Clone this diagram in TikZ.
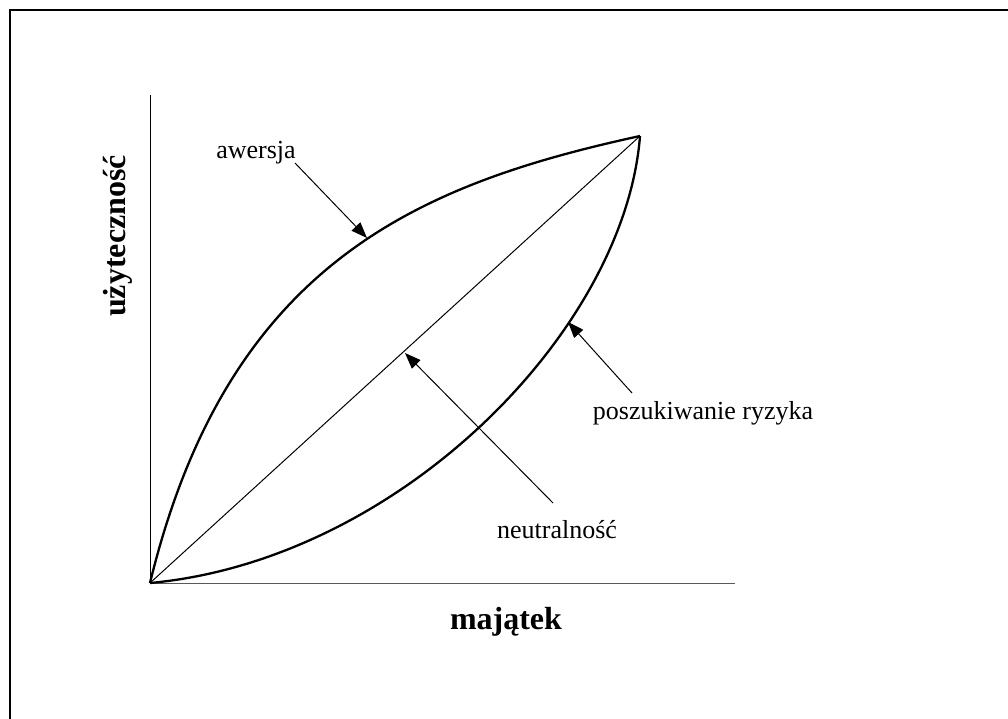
\documentclass[tikz,border=0pt]{standalone}
\usepackage{fontspec}
\setmainfont{Liberation Serif}
\usetikzlibrary{arrows.meta}
\begin{document}
\begin{tikzpicture}[x=1pt,y=-1pt,
  curve/.style={line width=2.3pt},
  thin/.style={line width=1pt},
  pointer/.style={line width=1pt,-{Triangle[length=16pt,width=12pt]}},
  lbl/.style={font=\fontsize{26}{30}\selectfont,inner sep=0pt},
  axlbl/.style={font=\fontsize{32}{36}\selectfont\bfseries,inner sep=0pt}]
\useasboundingbox (0,0) rectangle (1008,719);
\draw[line width=2.8pt] (10,719) -- (10,10) -- (1008,10);
% axes
\coordinate (O) at (150,583);
\coordinate (ytop) at (150,95);
\coordinate (xend) at (735,583);
\coordinate (T) at (640,136);
\draw[thin] (ytop) -- (O);
\draw[thin,black!65] (O) -- (xend);
% curves
\draw[curve] (O) .. controls (228,262) and (420,184) .. (T);
\draw[curve] (O) .. controls (400,560) and (625,330) .. (T);
\draw[thin] (O) -- (T);
% labels
\node[lbl] (aw) at (256,153) {awersja};
\node[lbl] (pr) at (703,413) {poszukiwanie ryzyka};
\node[lbl] (ne) at (557,530) {neutralność};
\node[axlbl,rotate=90] (uz) at (118,236) {użyteczność};
\node[axlbl] (mj) at (506,622) {majątek};
% arrow tips
\coordinate (awtip) at (367,238);
\coordinate (prtip) at (568,322);
\coordinate (netip) at (405,353);
\coordinate (awtail) at (295,163);
\coordinate (prtail) at (632,393);
\coordinate (netail) at (553,503);
\draw[pointer] (awtail) -- (awtip);
\draw[pointer] (prtail) -- (prtip);
\draw[pointer] (netail) -- (netip);
\end{tikzpicture}
\end{document}
